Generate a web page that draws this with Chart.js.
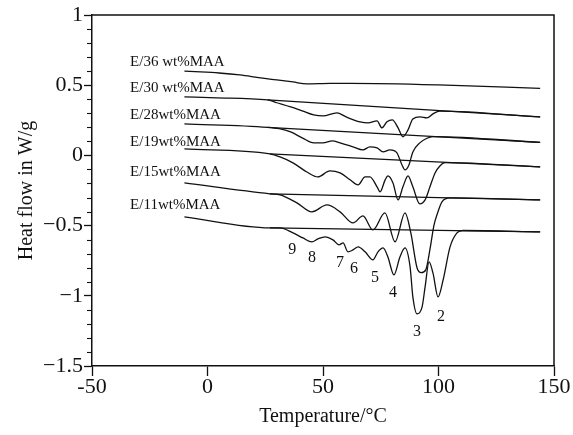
<!DOCTYPE html>
<html><head><meta charset="utf-8">
<script src="https://cdn.jsdelivr.net/npm/chart.js@4"></script>
<style>html,body{margin:0;padding:0;background:#fff}canvas{display:block}</style>
</head><body>
<canvas id="c" width="573" height="435"></canvas>
<script>
// ---- data (temperature in °C, heat flow in W/g) ----
const xTickValues = [-50, 0, 50, 100, 150];
const yTickValues = [-1.5, -1, -0.5, 0, 0.5, 1];

const e36T = [-10, -3, 5, 14, 23, 30, 37, 43, 53, 62, 100, 144];
const e36H = [0.600, 0.595, 0.587, 0.573, 0.552, 0.538, 0.523, 0.509, 0.513, 0.513, 0.502, 0.477];

const e30T = [-10, 4, 26, 30, 36, 41, 46, 50, 56, 60, 66, 69.5, 73.4, 75.5, 77.7, 80, 82.5, 84.6, 86.8, 88.9, 92, 95, 97.6, 100.5, 144];
const e30H = [0.417, 0.410, 0.395, 0.375, 0.345, 0.317, 0.288, 0.281, 0.303, 0.274, 0.239, 0.231, 0.246, 0.196, 0.239, 0.253, 0.196, 0.132, 0.182, 0.260, 0.274, 0.267, 0.296, 0.316, 0.274];
const e30BaseT = [26, 144];
const e30BaseH = [0.395, 0.274];

const e28T = [-10, 26, 31, 36, 41, 46, 50, 54, 57.4, 63, 67.3, 70.3, 73.4, 76, 79, 82, 84.2, 85.5, 87.2, 88.9, 91.9, 95, 97.5, 144];
const e28H = [0.224, 0.200, 0.190, 0.167, 0.125, 0.089, 0.089, 0.103, 0.089, 0.061, 0.039, 0.061, 0.053, 0.025, 0.039, 0.018, -0.068, -0.103, -0.068, 0.025, 0.089, 0.122, 0.134, 0.093];
const e28BaseT = [26, 144];
const e28BaseH = [0.200, 0.093];

const e19T = [-10, 27, 31.4, 37, 43, 47.8, 53, 57.4, 61.7, 65.2, 68.2, 70.3, 73.4, 74.7, 76.9, 78.1, 80.3, 82.5, 84.6, 86.8, 88.9, 91.9, 94.2, 96.3, 98.5, 100.6, 102.8, 144];
const e19H = [0.046, 0.011, -0.011, -0.053, -0.118, -0.153, -0.110, -0.125, -0.174, -0.210, -0.153, -0.153, -0.224, -0.260, -0.174, -0.146, -0.196, -0.317, -0.224, -0.146, -0.224, -0.345, -0.317, -0.224, -0.125, -0.075, -0.052, -0.082];
const e19BaseT = [27, 144];
const e19BaseH = [0.011, -0.082];

const e15T = [-10, 27, 31.4, 38.7, 45.2, 51.7, 57.4, 63, 67.3, 71.6, 76.8, 81.2, 85.5, 88, 90.7, 92.5, 94.5, 96.5, 98, 99.6, 101.5, 105, 144];
const e15H = [-0.196, -0.274, -0.281, -0.338, -0.402, -0.353, -0.402, -0.481, -0.431, -0.531, -0.410, -0.616, -0.410, -0.550, -0.800, -0.835, -0.815, -0.650, -0.500, -0.410, -0.331, -0.303, -0.317];
const e15BaseT = [27, 144];
const e15BaseH = [-0.274, -0.317];

const e11T = [-10, 27, 31.4, 37, 41.3, 45.2, 47.8, 50.9, 54.3, 56.9, 58.7, 60.8, 63, 65.2, 68.2, 71.6, 73.8, 76, 78.1, 80.7, 83.3, 85.5, 87.7, 88.9, 90.7, 92.9, 94.2, 95.9, 97.6, 99.8, 102, 105, 108, 110.6, 144];
const e11H = [-0.438, -0.516, -0.516, -0.552, -0.588, -0.616, -0.595, -0.580, -0.602, -0.637, -0.623, -0.687, -0.673, -0.652, -0.687, -0.744, -0.687, -0.659, -0.723, -0.851, -0.723, -0.659, -0.794, -1.008, -1.129, -1.079, -0.937, -0.759, -0.837, -1.008, -0.887, -0.652, -0.552, -0.535, -0.545];
const e11BaseT = [27, 144];
const e11BaseH = [-0.516, -0.545];

const sampleNames = ['E/36 wt%MAA', 'E/30 wt%MAA', 'E/28wt%MAA', 'E/19wt%MAA', 'E/15wt%MAA', 'E/11wt%MAA'];
const sampleLabelT = [-33.5, -33.5, -33.5, -33.5, -33.5, -33.5];
const sampleLabelH = [0.666, 0.481, 0.288, 0.096, -0.118, -0.353];

const peakNumbers = ['9', '8', '7', '6', '5', '4', '3', '2'];
const peakLabelT = [36.7, 45.2, 57.4, 63.4, 72.5, 80.3, 90.7, 101.1];
const peakLabelH = [-0.673, -0.730, -0.766, -0.808, -0.872, -0.979, -1.257, -1.150];

// ---- build ----
const FONT = 'Liberation Serif';
const pts = (T, H) => T.map((t, i) => ({x: t, y: H[i]}));
const curve = (T, H) => ({data: pts(T, H), borderColor: '#111', borderWidth: 1.3, pointRadius: 0, fill: false, cubicInterpolationMode: 'monotone'});
const straight = (T, H) => ({data: pts(T, H), borderColor: '#111', borderWidth: 1.2, pointRadius: 0, fill: false, tension: 0});

const datasets = [
  curve(e36T, e36H),
  curve(e30T, e30H), straight(e30BaseT, e30BaseH),
  curve(e28T, e28H), straight(e28BaseT, e28BaseH),
  curve(e19T, e19H), straight(e19BaseT, e19BaseH),
  curve(e15T, e15H), straight(e15BaseT, e15BaseH),
  curve(e11T, e11H), straight(e11BaseT, e11BaseH)
];

const fmtY = v => (v < 0 ? '\u2212' + String(Math.abs(v)) : String(v));

const framePlugin = {
  id: 'frame',
  afterDraw(chart) {
    const {ctx, chartArea: a, scales} = chart;
    ctx.save();
    ctx.strokeStyle = '#111';
    ctx.lineWidth = 1.5;
    ctx.beginPath();
    ctx.moveTo(a.left, a.top); ctx.lineTo(a.right, a.top); ctx.lineTo(a.right, a.bottom);
    ctx.stroke();
    // minor ticks on y axis
    const ys = scales.y;
    ctx.lineWidth = 1.1;
    for (let k = -14; k <= 9; k++) {
      if (k % 5 === 0) continue;
      const py = Math.round(ys.getPixelForValue(k / 10)) + 0.5;
      ctx.beginPath(); ctx.moveTo(a.left - 5, py); ctx.lineTo(a.left, py); ctx.stroke();
    }
    // text labels
    ctx.fillStyle = '#111';
    ctx.font = '15px "' + FONT + '"';
    ctx.textBaseline = 'middle';
    ctx.textAlign = 'left';
    sampleNames.forEach((s, i) => {
      ctx.fillText(s, scales.x.getPixelForValue(sampleLabelT[i]), ys.getPixelForValue(sampleLabelH[i]));
    });
    ctx.textAlign = 'center';
    ctx.font = '16px "' + FONT + '"';
    peakNumbers.forEach((s, i) => {
      ctx.fillText(s, scales.x.getPixelForValue(peakLabelT[i]), ys.getPixelForValue(peakLabelH[i]));
    });
    ctx.restore();
  }
};

new Chart(document.getElementById('c'), {
  type: 'line',
  data: {datasets},
  options: {
    responsive: false,
    animation: false,
    devicePixelRatio: 1,
    layout: {padding: {top: 15, right: 19, left: 0, bottom: 0}},
    plugins: {legend: {display: false}, tooltip: {enabled: false}},
    scales: {
      x: {
        type: 'linear', min: -50, max: 150,
        afterBuildTicks: s => { s.ticks = xTickValues.map(v => ({value: v})); },
        afterFit: s => { s.height = 69; },
        ticks: {color: '#111', font: {family: FONT, size: 22}, padding: -2, maxRotation: 0, callback: v => String(v)},
        grid: {display: true, drawOnChartArea: false, drawTicks: true, tickLength: 10, tickColor: '#111', tickWidth: 1.3},
        border: {display: true, color: '#111', width: 1.5},
        title: {display: true, text: 'Temperature/\u00B0C', color: '#111', font: {family: FONT, size: 20}, padding: {top: 0, bottom: 6}}
      },
      y: {
        type: 'linear', min: -1.5, max: 1,
        afterBuildTicks: s => { s.ticks = yTickValues.map(v => ({value: v})); },
        afterFit: s => { s.width = 92; },
        ticks: {color: '#111', font: {family: FONT, size: 22}, padding: 1, callback: v => fmtY(v)},
        grid: {display: true, drawOnChartArea: false, drawTicks: true, tickLength: 8, tickColor: '#111', tickWidth: 1.3},
        border: {display: true, color: '#111', width: 1.5},
        title: {display: true, text: 'Heat flow in W/g', color: '#111', font: {family: FONT, size: 20}, padding: {top: 15, bottom: 0}}
      }
    }
  },
  plugins: [framePlugin]
});
</script>
</body></html>
